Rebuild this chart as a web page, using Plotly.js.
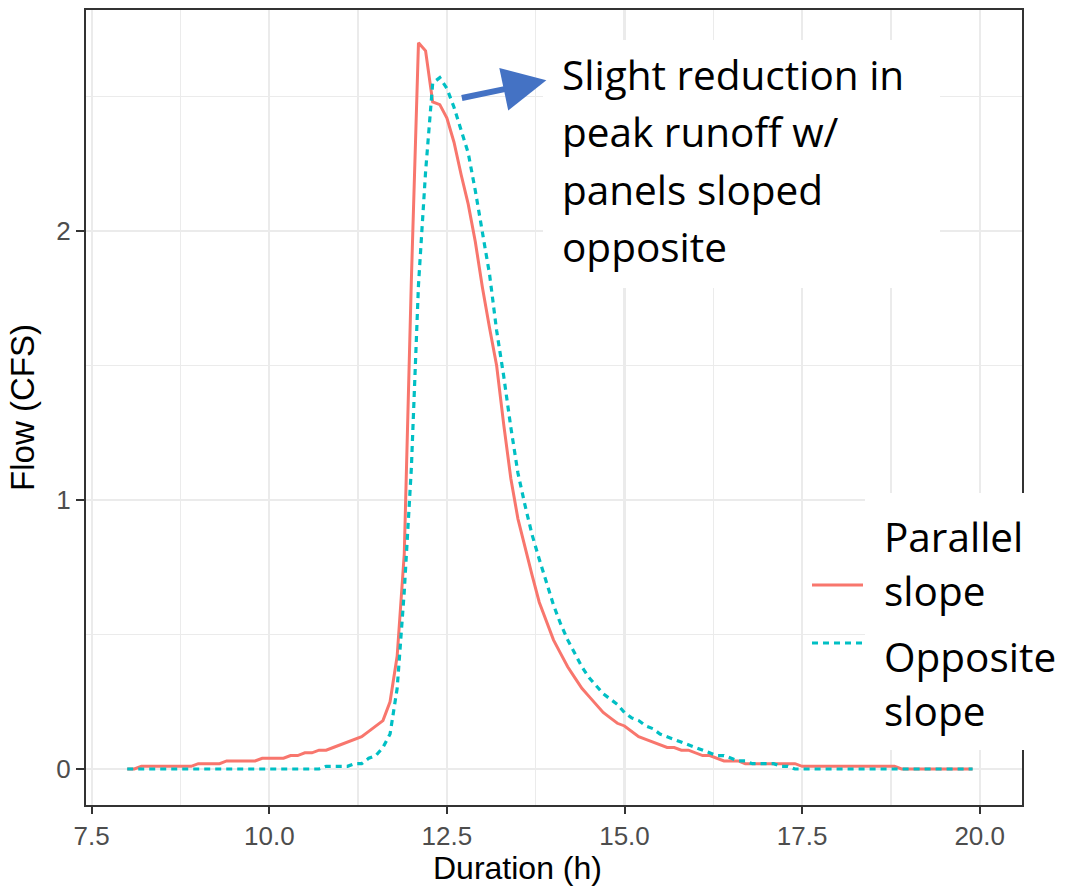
<!DOCTYPE html>
<html>
<head>
<meta charset="utf-8">
<script src="https://cdn.plot.ly/plotly-3.0.1.min.js"></script>
<style>html,body{margin:0;padding:0;background:#fff;}#chart{width:1066px;height:887px;}</style>
</head>
<body>
<div id="chart"></div>
<script>
// Duration (h), sampled every 0.1 h
const duration = [
  8.0,8.1,8.2,8.3,8.4,8.5,8.6,8.7,8.8,8.9,
  9.0,9.1,9.2,9.3,9.4,9.5,9.6,9.7,9.8,9.9,
  10.0,10.1,10.2,10.3,10.4,10.5,10.6,10.7,10.8,10.9,
  11.0,11.1,11.2,11.3,11.4,11.5,11.6,11.7,11.8,11.9,
  12.0,12.1,12.2,12.3,12.4,12.5,12.6,12.7,12.8,12.9,
  13.0,13.1,13.2,13.3,13.4,13.5,13.6,13.7,13.8,13.9,
  14.0,14.1,14.2,14.3,14.4,14.5,14.6,14.7,14.8,14.9,
  15.0,15.1,15.2,15.3,15.4,15.5,15.6,15.7,15.8,15.9,
  16.0,16.1,16.2,16.3,16.4,16.5,16.6,16.7,16.8,16.9,
  17.0,17.1,17.2,17.3,17.4,17.5,17.6,17.7,17.8,17.9,
  18.0,18.1,18.2,18.3,18.4,18.5,18.6,18.7,18.8,18.9,
  19.0,19.1,19.2,19.3,19.4,19.5,19.6,19.7,19.8,19.9
];
// Flow (CFS) - panels with parallel slope
const parallelFlow = [
  0,0,0.01,0.01,0.01,0.01,0.01,0.01,0.01,0.01,
  0.02,0.02,0.02,0.02,0.03,0.03,0.03,0.03,0.03,0.04,
  0.04,0.04,0.04,0.05,0.05,0.06,0.06,0.07,0.07,0.08,
  0.09,0.10,0.11,0.12,0.14,0.16,0.18,0.25,0.42,0.80,
  1.82,2.70,2.67,2.48,2.47,2.42,2.33,2.21,2.10,1.96,
  1.79,1.64,1.50,1.28,1.08,0.93,0.82,0.72,0.62,0.55,
  0.48,0.43,0.38,0.34,0.30,0.27,0.24,0.21,0.19,0.17,
  0.16,0.14,0.12,0.11,0.10,0.09,0.08,0.08,0.07,0.07,
  0.06,0.05,0.05,0.04,0.03,0.03,0.03,0.02,0.02,0.02,
  0.02,0.02,0.02,0.02,0.02,0.01,0.01,0.01,0.01,0.01,
  0.01,0.01,0.01,0.01,0.01,0.01,0.01,0.01,0.01,0,
  0,0,0,0,0,0,0,0,0,0
];
// Flow (CFS) - panels with opposite slope
const oppositeFlow = [
  0,0,0,0,0,0,0,0,0,0,
  0,0,0,0,0,0,0,0,0,0,
  0,0,0,0,0,0,0,0,0.01,0.01,
  0.01,0.01,0.02,0.02,0.04,0.05,0.08,0.13,0.30,0.66,
  1.12,1.80,2.22,2.55,2.57,2.53,2.46,2.37,2.29,2.15,
  1.99,1.84,1.63,1.46,1.27,1.10,0.98,0.87,0.78,0.69,
  0.61,0.54,0.48,0.43,0.38,0.34,0.31,0.28,0.26,0.24,
  0.21,0.19,0.18,0.16,0.15,0.13,0.12,0.11,0.10,0.09,
  0.08,0.07,0.06,0.05,0.05,0.04,0.03,0.03,0.02,0.02,
  0.02,0.02,0.01,0.01,0,0,0,0,0,0,
  0,0,0,0,0,0,0,0,0,0,
  0,0,0,0,0,0,0,0,0,0
];
const xTickVals = [7.5,10,12.5,15,17.5,20];
const xTickText = ['7.5','10.0','12.5','15.0','17.5','20.0'];
const yTickVals = [0,1,2];
const yTickText = ['0','1','2'];
const xTitle = 'Duration (h)';
const yTitle = 'Flow (CFS)';
const calloutLines = ['Slight reduction in','peak runoff w/','panels sloped','opposite'];
const legendLines = ['Parallel','slope','Opposite','slope'];

const traces = [
  {x: duration, y: parallelFlow, type:'scatter', mode:'lines', name:' ', legendgroup:'a',
   line:{color:'#F8766D', width:3}},
  {x: duration, y: oppositeFlow, type:'scatter', mode:'lines', name:' ', legendgroup:'b',
   line:{color:'#00BFC4', width:3.2, dash:'6px,5px'}}
];

const txtFont = {family:'Open Sans, sans-serif', size:40.5, color:'#000000'};
const PW = 936, PH = 795, ML = 86, MT = 10;
function px2paperX(p){ return (p-ML)/PW; }
function px2paperY(p){ return (MT+PH-p)/PH; }

const annotations = [];
const calloutY = [74.5,131.5,189.5,246.5];
calloutLines.forEach((t,i)=>annotations.push({
  text:t, xref:'paper', yref:'paper', x:px2paperX(560), y:px2paperY(calloutY[i]),
  xanchor:'left', yanchor:'middle', showarrow:false, font:txtFont, align:'left'
}));
const legendY = [536.5,590.5,656.5,710.5];
legendLines.forEach((t,i)=>annotations.push({
  text:t, xref:'paper', yref:'paper', x:px2paperX(882), y:px2paperY(legendY[i]),
  xanchor:'left', yanchor:'middle', showarrow:false, font:txtFont, align:'left'
}));
annotations.push({
  text:'', xref:'x', yref:'y', x:13.90, y:2.56, axref:'pixel', ayref:'pixel',
  ax:-86, ay:18, showarrow:true, arrowhead:2, arrowsize:1.45, arrowwidth:6,
  arrowcolor:'#4472C4', standoff:0
});
// x-axis title (placed as in the reference, left of panel centre)
annotations.push({
  text:xTitle, xref:'paper', yref:'paper', x:px2paperX(517), y:px2paperY(868),
  xanchor:'center', yanchor:'middle', showarrow:false,
  font:{family:'Liberation Sans, Arial, sans-serif', size:32, color:'#000000'}
});

const shapes = [
  {type:'rect', xref:'paper', yref:'paper', x0:px2paperX(543), x1:px2paperX(940),
   y0:px2paperY(288), y1:px2paperY(40), fillcolor:'#FFFFFF', line:{width:0}, layer:'above'},
  {type:'rect', xref:'paper', yref:'paper', x0:px2paperX(865), x1:px2paperX(1070),
   y0:px2paperY(750), y1:px2paperY(493), fillcolor:'#FFFFFF', line:{width:0}, layer:'above'}
];

const layout = {
  width:1066, height:887,
  margin:{l:ML, r:44, t:MT, b:82, pad:0},
  paper_bgcolor:'#FFFFFF', plot_bgcolor:'#FFFFFF',
  font:{family:'Liberation Sans, Arial, sans-serif', color:'#4D4D4D'},
  showlegend:true,
  legend:{x:px2paperX(807), xanchor:'left', y:px2paperY(554), yanchor:'top',
          bgcolor:'rgba(0,0,0,0)', font:{size:37.7}, itemwidth:51, tracegroupgap:6},
  xaxis:{
    range:[7.4198, 20.5955], tickmode:'array', tickvals:xTickVals, ticktext:xTickText,
    showgrid:true, gridcolor:'#EBEBEB', gridwidth:2.2, zeroline:false,
    minor:{tick0:7.5, dtick:1.25, showgrid:true, gridcolor:'#EBEBEB', gridwidth:1.4, ticks:''},
    showline:true, mirror:true, linecolor:'#333333', linewidth:2,
    ticks:'outside', ticklen:7, tickwidth:2, tickcolor:'#333333',
    tickfont:{size:26, color:'#4D4D4D'}
  },
  yaxis:{
    range:[-0.1338, 2.8216], tickmode:'array', tickvals:yTickVals, ticktext:yTickText,
    showgrid:true, gridcolor:'#EBEBEB', gridwidth:2.2, zeroline:false,
    minor:{tick0:0, dtick:0.5, showgrid:true, gridcolor:'#EBEBEB', gridwidth:1.4, ticks:''},
    showline:true, mirror:true, linecolor:'#333333', linewidth:2,
    ticks:'outside', ticklen:8, tickwidth:2, tickcolor:'#333333',
    tickfont:{size:26, color:'#4D4D4D'},
    title:{text:yTitle, font:{size:33, color:'#000000'}, standoff:12}
  },
  shapes:shapes,
  annotations:annotations
};

Plotly.newPlot('chart', traces, layout, {displayModeBar:false, staticPlot:true});
</script>
</body>
</html>
